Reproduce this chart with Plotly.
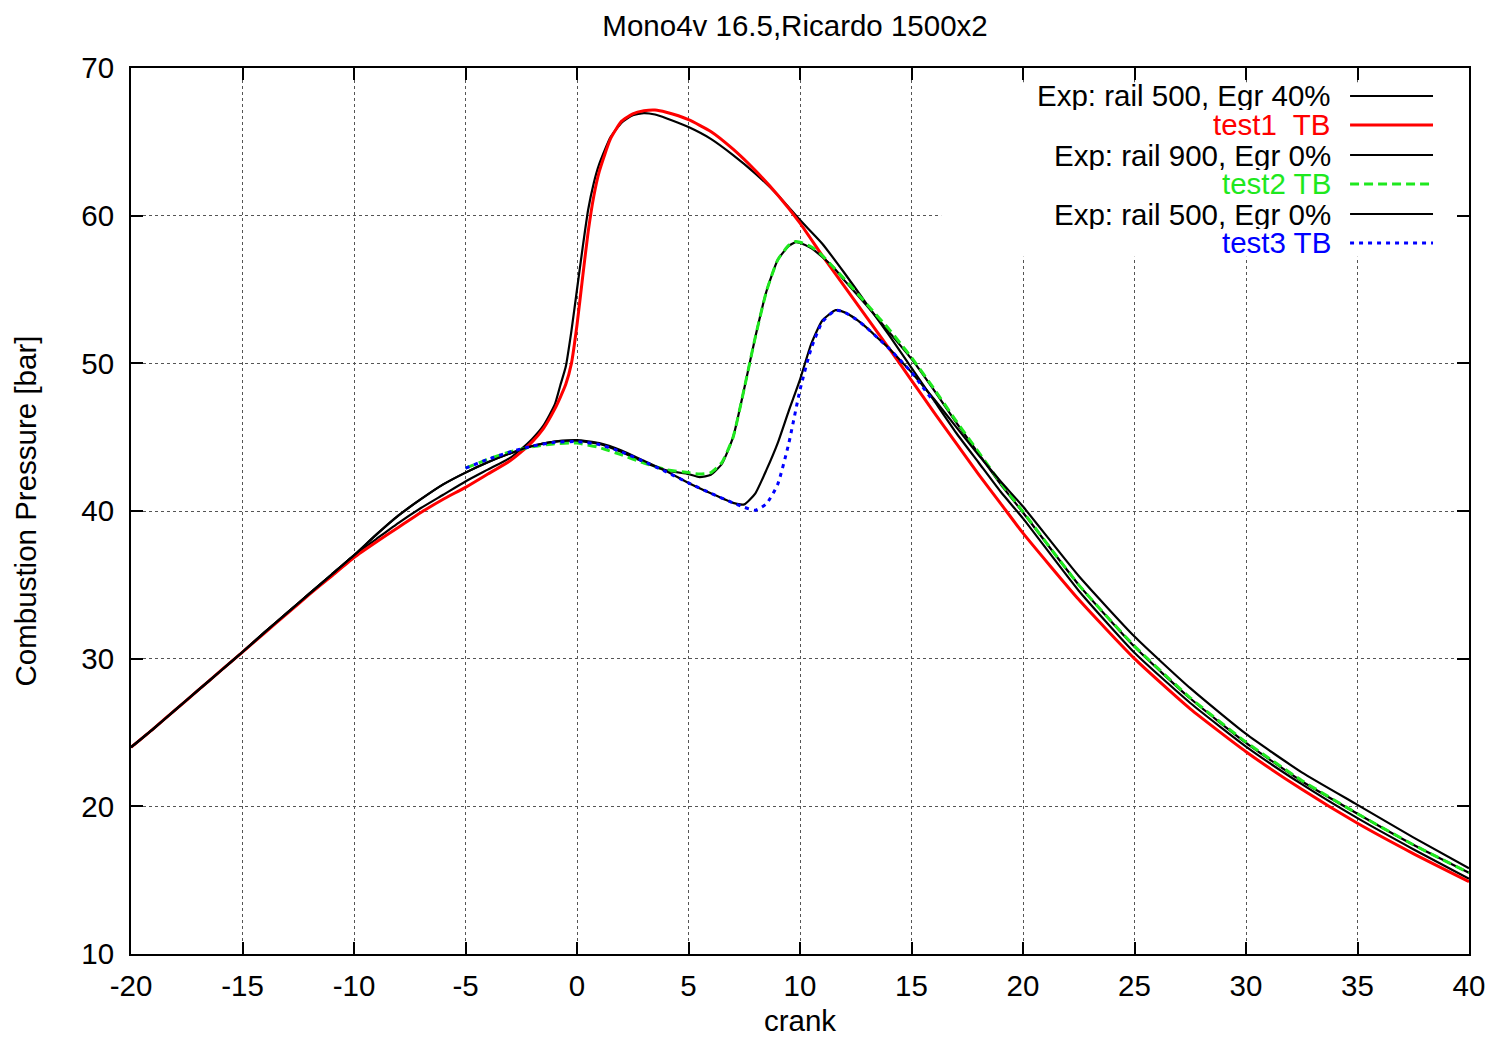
import plotly.graph_objects as go

# ---------------- data ----------------
x_long = [-20, -19, -18, -17, -16, -15, -14, -13, -12, -11, -10, -9, -8, -7, -6, -5, -4, -3, -2.5, -2,
          -1.5, -1, -0.75, -0.5, -0.25, 0, 0.25, 0.5, 0.75, 1, 1.5, 2, 2.5, 3, 3.5, 4, 5, 6, 7, 8, 9, 10,
          11, 12, 13, 14, 15, 16, 17, 18, 19, 20, 22.5, 25, 27.5, 30, 32.5, 35, 37.5, 40]

exp_500_egr40 = [24.0, 25.25, 26.55, 27.85, 29.15, 30.45, 31.8, 33.1, 34.4, 35.7, 37.0, 38.1, 39.2, 40.2, 41.1,
                 42.0, 42.8, 43.6, 44.2, 44.9, 45.8, 47.2, 48.5, 49.8, 52.2, 55.0, 57.8, 60.4, 62.2, 63.5,
                 65.3, 66.3, 66.8, 66.95, 66.85, 66.6, 66.0, 65.2, 64.1, 62.85, 61.4, 59.7, 58.1, 56.1, 54.0,
                 51.9, 49.7, 47.5, 45.3, 43.3, 41.3, 39.5, 34.6, 30.4, 27.0, 24.05, 21.5, 19.2, 17.1, 15.1]

test1_tb = [24.0, 25.25, 26.55, 27.85, 29.15, 30.45, 31.75, 33.05, 34.35, 35.6, 36.85, 37.9, 38.9, 39.9, 40.8,
            41.6, 42.5, 43.4, 44.0, 44.7, 45.6, 46.9, 47.7, 48.6, 50.0, 52.6, 55.8, 58.9, 61.3, 63.0,
            65.2, 66.4, 66.9, 67.1, 67.15, 67.0, 66.5, 65.7, 64.5, 63.05, 61.4, 59.5, 57.3, 55.2, 53.1,
            51.0, 48.85, 46.7, 44.6, 42.5, 40.5, 38.5, 34.0, 30.0, 26.6, 23.7, 21.15, 18.85, 16.8, 14.9]

x_b = [-20, -19, -18, -17, -16, -15, -14, -13, -12, -11, -10, -9, -8, -7, -6, -5, -4, -3, -2, -1, 0, 1, 2, 3,
       4, 5, 5.5, 6, 6.5, 7, 7.5, 8, 8.5, 9, 9.5, 9.8, 10, 10.5, 11, 11.5, 12, 13, 14, 15, 16, 17, 18, 19,
       20, 22.5, 25, 27.5, 30, 32.5, 35, 37.5, 40]
exp_900_egr0 = [24.0, 25.25, 26.55, 27.85, 29.15, 30.45, 31.8, 33.1, 34.4, 35.7, 37.0, 38.4, 39.7, 40.8, 41.8,
                42.6, 43.3, 43.9, 44.4, 44.7, 44.75, 44.55, 44.0, 43.3, 42.75, 42.5, 42.3, 42.45, 43.2, 45.0,
                48.3, 51.8, 54.9, 57.0, 57.95, 58.2, 58.15, 57.8, 57.2, 56.5, 55.6, 53.9, 52.1, 50.3, 48.2,
                46.0, 43.9, 41.8, 39.9, 35.0, 30.8, 27.3, 24.3, 21.7, 19.5, 17.4, 15.5]

x_t2 = [-5, -4, -3, -2, -1, 0, 1, 2, 3, 4, 5, 5.5, 6, 6.5, 7, 7.5, 8, 8.5, 9, 9.5, 9.8, 10, 10.5, 11, 11.5,
        12, 13, 14, 14.5, 15, 16, 17, 18, 19, 20, 22.5, 25, 27.5, 30, 32.5, 35, 37.5, 40]
test2_tb = [42.9, 43.5, 44.0, 44.35, 44.55, 44.6, 44.3, 43.8, 43.25, 42.8, 42.6, 42.5, 42.6, 43.3, 45.0, 48.3,
            51.8, 54.9, 57.0, 58.0, 58.25, 58.2, 57.9, 57.3, 56.5, 55.7, 54.0, 52.3, 51.35, 50.4, 48.3,
            46.1, 44.0, 41.9, 39.95, 35.0, 30.85, 27.35, 24.35, 21.75, 19.5, 17.4, 15.5]

x_c = [-20, -19, -18, -17, -16, -15, -14, -13, -12, -11, -10, -9, -8, -7, -6, -5, -4, -3, -2, -1, 0, 1, 2, 3,
       4, 5, 6, 7, 7.5, 8, 8.5, 9, 9.5, 10, 10.5, 11, 11.6, 12, 12.5, 13, 13.5, 14, 14.5, 15, 15.5, 16, 17,
       18, 19, 20, 22.5, 25, 27.5, 30, 32.5, 35, 37.5, 40]
exp_500_egr0 = [24.0, 25.25, 26.55, 27.85, 29.15, 30.45, 31.8, 33.1, 34.4, 35.7, 37.0, 38.4, 39.7, 40.8, 41.8,
                42.6, 43.3, 43.9, 44.4, 44.7, 44.8, 44.6, 44.1, 43.4, 42.7, 41.9, 41.2, 40.55, 40.45, 41.2,
                42.8, 44.6, 46.8, 48.9, 51.3, 52.9, 53.6, 53.45, 53.0, 52.4, 51.7, 51.0, 50.2, 49.4, 48.5,
                47.6, 45.7, 43.8, 42.0, 40.3, 35.6, 31.5, 28.0, 24.9, 22.3, 20.1, 17.9, 15.8]

x_t3 = [-5, -4, -3, -2, -1, 0, 1, 2, 3, 4, 5, 6, 7, 7.5, 8, 8.5, 9, 9.5, 10, 10.5, 11, 11.6, 12, 12.5, 13,
        13.5, 14, 14.5, 15, 15.5, 16]
test3_tb = [42.9, 43.5, 44.0, 44.4, 44.65, 44.7, 44.5, 44.0, 43.35, 42.65, 41.9, 41.2, 40.55, 40.25, 40.05,
            40.5, 41.8, 44.6, 48.2, 51.0, 52.8, 53.6, 53.45, 53.0, 52.4, 51.7, 51.0, 50.2, 49.4, 48.4, 47.4]

x_ticks = [-20, -15, -10, -5, 0, 5, 10, 15, 20, 25, 30, 35, 40]
y_ticks = [10, 20, 30, 40, 50, 60, 70]

series = [
    ("Exp: rail 500, Egr 40%", x_long, exp_500_egr40, "#000000", 2.2, "solid"),
    ("test1  TB", x_long, test1_tb, "#ff0000", 3, "solid"),
    ("Exp: rail 900, Egr 0%", x_b, exp_900_egr0, "#000000", 2.2, "solid"),
    ("test2 TB", x_t2, test2_tb, "#1ee81e", 3, "9px,5px"),
    ("Exp: rail 500, Egr 0%", x_c, exp_500_egr0, "#000000", 2.2, "solid"),
    ("test3 TB", x_t3, test3_tb, "#0000ff", 3, "4px,5px"),
]

FONT = "Liberation Sans, Arial, sans-serif"
FS = 29.5

fig = go.Figure()
for name, xs, ys, col, w, dash in series:
    fig.add_trace(go.Scatter(x=xs, y=ys, mode="lines", name=name,
                             line=dict(color=col, width=w, dash=dash, shape="spline", smoothing=0.5),
                             showlegend=False))

# gnuplot style key: opaque area, text right-aligned, sample line at right
shapes = [dict(type="rect", xref="paper", yref="paper", x0=0.6055, x1=0.9895, y0=0.787, y1=0.984,
               fillcolor="white", line=dict(width=0), layer="above")]
annotations = []
row_y = [0.9684, 0.9357, 0.9018, 0.8691, 0.8352, 0.8025]
for (name, xs, ys, col, w, dash), yy in zip(series, row_y):
    annotations.append(dict(xref="paper", yref="paper", x=0.8975, y=yy, xanchor="right", yanchor="middle",
                            text=name, showarrow=False, height=29, valign="middle", borderpad=0,
                            font=dict(family=FONT, size=FS, color=col)))
    shapes.append(dict(type="line", xref="paper", yref="paper", x0=0.9111, x1=0.9731, y0=yy, y1=yy,
                       line=dict(color=col, width=w, dash=dash), layer="above"))

axis_common = dict(showline=True, linecolor="black", linewidth=2, mirror="ticks", ticks="inside",
                   ticklen=12, tickwidth=2, tickcolor="black", showgrid=True, gridcolor="#555555",
                   gridwidth=1, griddash="dot", zeroline=False,
                   tickfont=dict(family=FONT, size=FS, color="black"))

fig.update_layout(
    width=1487, height=1034,
    paper_bgcolor="white", plot_bgcolor="white",
    margin=dict(l=123, r=26, t=60, b=88, autoexpand=False),
    title=dict(text="Mono4v 16.5,Ricardo 1500x2", x=0.5293, xanchor="center", y=0.9826, yanchor="middle",
               yref="container", font=dict(family=FONT, size=FS, color="black")),
    xaxis=dict(range=[-20, 40], tickvals=x_ticks, ticktext=[str(v) for v in x_ticks],
               ticklabelstandoff=5,
               title=dict(text="crank", standoff=9, font=dict(family=FONT, size=FS, color="black")),
               **axis_common),
    yaxis=dict(range=[10, 70], tickvals=y_ticks, ticktext=[str(v) for v in y_ticks],
               ticklabelstandoff=9,
               title=dict(text="Combustion Pressure [bar]", standoff=36,
                          font=dict(family=FONT, size=FS, color="black")),
               **axis_common),
    shapes=shapes, annotations=annotations,
)

fig.write_html("out.html")
